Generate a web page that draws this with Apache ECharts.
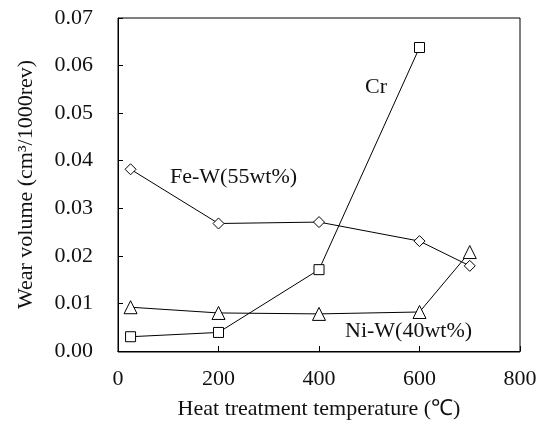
<!DOCTYPE html>
<html>
<head>
<meta charset="utf-8">
<script src="https://cdn.jsdelivr.net/npm/echarts@6/dist/echarts.min.js"></script>
<style>
  html, body { margin: 0; padding: 0; background: #fff; }
  #chart { width: 546px; height: 425px; }
</style>
</head>
<body>
<div id="chart"></div>
<script>
// temperatures (℃) and wear volume (cm³/1000rev)
const crTemp = [25, 200, 400, 600]
const crWear = [0.0030, 0.0039, 0.0171, 0.0638]
const feTemp = [25, 200, 400, 600, 700]
const feWear = [0.0382, 0.0268, 0.0271, 0.0231, 0.0179]
const niTemp = [25, 200, 400, 600, 700]
const niWear = [0.0092, 0.0080, 0.0078, 0.0082, 0.0208]

const zip = (xs, ys) => xs.map((x, i) => [x, ys[i]])

const font = 'Liberation Serif, Times New Roman, serif'
const fs = 22
const chart = echarts.init(document.getElementById('chart'))

const lineSeries = (name, data, symbol, size) => ({
  name,
  type: 'line',
  data,
  symbol,
  symbolSize: size,
  showAllSymbol: true,
  lineStyle: { color: '#000', width: 1 },
  itemStyle: { color: '#fff', borderColor: '#000', borderWidth: 1 },
  emphasis: { disabled: true },
  z: 3
})

chart.setOption({
  backgroundColor: '#fff',
  animation: false,
  grid: { left: 118, right: 26, top: 18, bottom: 73 },
  xAxis: {
    type: 'value',
    min: 0,
    max: 800,
    interval: 200,
    name: 'Heat treatment temperature (℃)',
    nameLocation: 'middle',
    nameGap: 47,
    nameTextStyle: { fontFamily: font, fontSize: fs, color: '#111' },
    axisLine: { onZero: false, lineStyle: { color: '#000', width: 1 } },
    axisTick: { inside: true, length: 5, lineStyle: { color: '#000' } },
    axisLabel: { fontFamily: font, fontSize: fs, color: '#111', margin: 17 },
    splitLine: { show: false }
  },
  yAxis: {
    type: 'value',
    min: 0,
    max: 0.07,
    interval: 0.01,
    name: 'Wear volume (cm³/1000rev)',
    nameLocation: 'middle',
    nameGap: 81,
    nameTextStyle: { fontFamily: font, fontSize: fs, color: '#111' },
    axisLine: { show: true, lineStyle: { color: '#000', width: 1 } },
    axisTick: { inside: true, length: 5, lineStyle: { color: '#000' } },
    axisLabel: {
      fontFamily: font, fontSize: fs, color: '#111', margin: 25,
      formatter: v => v.toFixed(2)
    },
    splitLine: { show: false }
  },
  graphic: [
    {
      type: 'rect',
      shape: { x: 118, y: 18, width: 402, height: 334 },
      style: { fill: 'none', stroke: '#000', lineWidth: 1 },
      silent: true,
      z: 0
    },
    {
      type: 'text', left: 365, top: 76,
      style: { text: 'Cr', fontFamily: font, fontSize: fs, fill: '#111' }
    },
    {
      type: 'text', left: 170, top: 166,
      style: { text: 'Fe-W(55wt%)', fontFamily: font, fontSize: fs, fill: '#111' }
    },
    {
      type: 'text', left: 345, top: 320,
      style: { text: 'Ni-W(40wt%)', fontFamily: font, fontSize: fs, fill: '#111' }
    }
  ],
  series: [
    lineSeries('Cr', zip(crTemp, crWear), 'rect', 10),
    lineSeries('Fe-W(55wt%)', zip(feTemp, feWear), 'diamond', 11),
    lineSeries('Ni-W(40wt%)', zip(niTemp, niWear), 'triangle', 13)
  ]
})
</script>
</body>
</html>
